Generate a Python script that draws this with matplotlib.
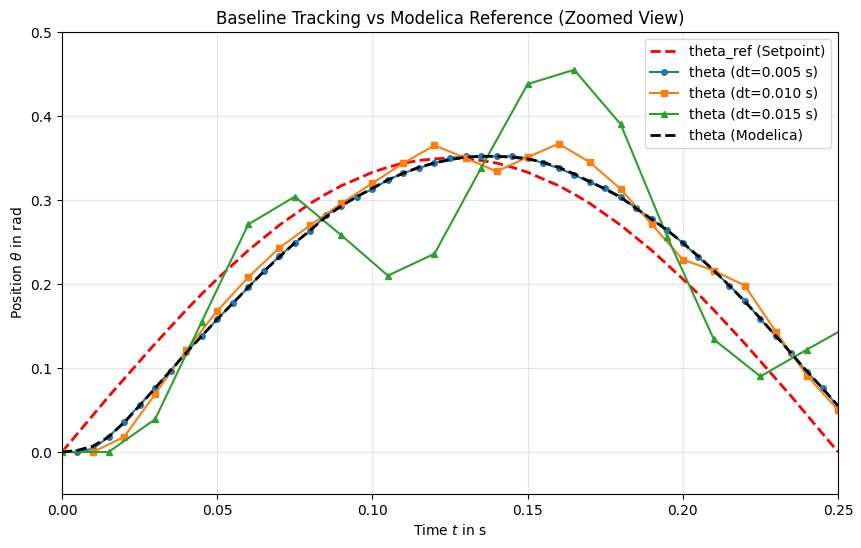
import matplotlib
matplotlib.use("Agg")
import matplotlib.pyplot as plt

# setpoint, read every 0.005 s
t_ref = [i * 0.005 for i in range(51)]
theta_ref = [0.000, 0.022, 0.044, 0.066, 0.087, 0.108, 0.129, 0.149, 0.169, 0.188,
             0.206, 0.223, 0.240, 0.255, 0.270, 0.283, 0.296, 0.307, 0.317, 0.325,
             0.333, 0.339, 0.344, 0.347, 0.349, 0.350, 0.349, 0.347, 0.344, 0.339,
             0.333, 0.325, 0.317, 0.307, 0.296, 0.283, 0.270, 0.255, 0.240, 0.223,
             0.206, 0.188, 0.169, 0.149, 0.129, 0.108, 0.087, 0.066, 0.044, 0.022,
             0.000]

# dt = 0.005 s
t_005 = [i * 0.005 for i in range(51)]
theta_005 = [0.000, 0.000, 0.004, 0.018, 0.036, 0.056, 0.076, 0.097, 0.119, 0.138,
             0.158, 0.177, 0.196, 0.215, 0.233, 0.249, 0.263, 0.282, 0.293, 0.304,
             0.313, 0.324, 0.332, 0.338, 0.344, 0.350, 0.352, 0.352, 0.352, 0.352,
             0.350, 0.344, 0.338, 0.330, 0.321, 0.314, 0.304, 0.290, 0.277, 0.264,
             0.249, 0.232, 0.216, 0.198, 0.180, 0.158, 0.138, 0.118, 0.095, 0.076,
             0.054]

# dt = 0.010 s
t_010 = [i * 0.01 for i in range(26)]
theta_010 = [0.000, 0.000, 0.018, 0.069, 0.121, 0.168, 0.208, 0.243, 0.270, 0.296,
             0.320, 0.344, 0.365, 0.350, 0.334, 0.351, 0.367, 0.345, 0.313, 0.271,
             0.229, 0.216, 0.198, 0.143, 0.091, 0.050]

# dt = 0.015 s
t_015 = [i * 0.015 for i in range(18)]
theta_015 = [0.000, 0.000, 0.039, 0.155, 0.271, 0.304, 0.258, 0.210, 0.236, 0.338,
             0.438, 0.455, 0.390, 0.256, 0.134, 0.090, 0.122, 0.153]

# Modelica reference
t_mod = [i * 0.005 for i in range(51)]
theta_mod = [0.000, 0.002, 0.007, 0.018, 0.035, 0.055, 0.076, 0.097, 0.118, 0.138,
             0.158, 0.177, 0.196, 0.215, 0.232, 0.249, 0.264, 0.280, 0.293, 0.304,
             0.314, 0.324, 0.332, 0.339, 0.344, 0.348, 0.351, 0.352, 0.352, 0.351,
             0.349, 0.345, 0.339, 0.331, 0.322, 0.313, 0.303, 0.290, 0.277, 0.264,
             0.249, 0.233, 0.216, 0.198, 0.179, 0.159, 0.138, 0.117, 0.096, 0.076,
             0.055]

fig = plt.figure(figsize=(8.62, 5.48), dpi=100)
ax = fig.add_axes([0.0719, 0.0985, 0.9003, 0.8431])

ax.plot(t_ref, theta_ref, color='red', linestyle='--', linewidth=2, label='theta_ref (Setpoint)')
ax.plot(t_005, theta_005, marker='o', markersize=4, linewidth=1.5, label='theta (dt=0.005 s)')
ax.plot(t_010, theta_010, marker='s', markersize=4.5, linewidth=1.5, label='theta (dt=0.010 s)')
ax.plot(t_015, theta_015, marker='^', markersize=4.5, linewidth=1.5, label='theta (dt=0.015 s)')
ax.plot(t_mod, theta_mod, color='black', linestyle='--', linewidth=2, label='theta (Modelica)')

ax.set_title('Baseline Tracking vs Modelica Reference (Zoomed View)')
ax.set_xlabel('Time $t$ in s')
ax.set_ylabel(r'Position $\theta$ in rad')
ax.set_xlim(0, 0.25)
ax.set_ylim(-0.05, 0.5)
ax.grid(True, alpha=0.3)
ax.legend(loc='upper right')

fig.savefig('out.png', dpi=100)
